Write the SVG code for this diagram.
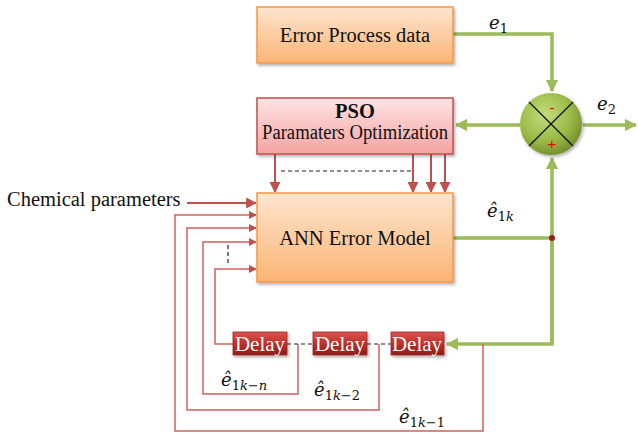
<svg xmlns="http://www.w3.org/2000/svg" width="638" height="434" viewBox="0 0 638 434">
<defs>
<linearGradient id="gOrange" x1="0" y1="0" x2="0" y2="1">
<stop offset="0" stop-color="#fde5cf"/><stop offset="1" stop-color="#fbb574"/>
</linearGradient>
<linearGradient id="gPink" x1="0" y1="0" x2="0" y2="1">
<stop offset="0" stop-color="#fde4e4"/><stop offset="1" stop-color="#f5a3a1"/>
</linearGradient>
<linearGradient id="gDelay" x1="0" y1="0" x2="0" y2="1">
<stop offset="0" stop-color="#d9534f"/><stop offset="0.5" stop-color="#c0302c"/><stop offset="1" stop-color="#8c1c1a"/>
</linearGradient>
<radialGradient id="gSum" cx="0.4" cy="0.35" r="0.7">
<stop offset="0" stop-color="#c3dc7e"/><stop offset="0.6" stop-color="#9bbb47"/><stop offset="1" stop-color="#6f8a2c"/>
</radialGradient>
<marker id="aRed" viewBox="0 0 10 10" refX="9" refY="5" markerWidth="5.5" markerHeight="5.5" orient="auto" markerUnits="strokeWidth">
<path d="M0,0 L10,5 L0,10 z" fill="#c0504d"/>
</marker>
<marker id="aGreen" viewBox="0 0 10 10" refX="9" refY="5" markerWidth="3.5" markerHeight="3.5" orient="auto" markerUnits="strokeWidth">
<path d="M0,0 L10,5 L0,10 z" fill="#9bbb59"/>
</marker>
<filter id="sh" x="-10%" y="-10%" width="130%" height="140%">
<feDropShadow dx="1.5" dy="2" stdDeviation="1.5" flood-color="#000" flood-opacity="0.3"/>
</filter>
</defs>
<style>
.t{font-family:"Liberation Serif","Times New Roman",serif;fill:#111;font-size:20.5px;}
.box{stroke-width:1.5;}
.red{stroke:#c0504d;stroke-width:2;fill:none;}
.fb{stroke:#d0605d;stroke-width:1.5;fill:none;}
.grn{stroke:#9bbb59;stroke-width:3.5;fill:none;}
.dash{stroke:#222;stroke-width:1.2;stroke-dasharray:4,3;fill:none;}
.dl{font-family:"Liberation Serif","Times New Roman",serif;fill:#fff;font-size:21px;}
.m{font-family:"DejaVu Serif","Liberation Serif",serif;font-style:italic;fill:#111;font-size:18px;}
.s{font-size:13px;}
.u{font-style:normal;}
</style>

<g id="connectors">
<polyline class="grn" points="453,34 552,34 552,91" marker-end="url(#aGreen)"/>
<line class="grn" x1="520" y1="125" x2="456" y2="125" marker-end="url(#aGreen)"/>
<line class="grn" x1="583" y1="125" x2="636" y2="125" marker-end="url(#aGreen)"/>
<polyline class="grn" points="453,238 552,238"/>
<line class="grn" x1="552" y1="344" x2="552" y2="158" marker-end="url(#aGreen)"/>
<polyline class="grn" points="552,238 552,344 447,344" marker-end="url(#aGreen)"/>
<circle cx="552" cy="238" r="3" fill="#a01818"/>
<line class="red" x1="275" y1="154" x2="275" y2="192" marker-end="url(#aRed)"/>
<line class="red" x1="413" y1="154" x2="413" y2="192" marker-end="url(#aRed)"/>
<line class="red" x1="431" y1="154" x2="431" y2="192" marker-end="url(#aRed)"/>
<line class="red" x1="445" y1="154" x2="445" y2="192" marker-end="url(#aRed)"/>
<line class="dash" x1="281" y1="171" x2="412" y2="171"/>
<line class="red" x1="187" y1="203" x2="256" y2="203" marker-end="url(#aRed)"/>
<polyline class="fb" points="483,344 483,431 175,431 175,215 256,215" marker-end="url(#aRed)"/>
<polyline class="fb" points="379,344 379,410 187,410 187,228 256,228" marker-end="url(#aRed)"/>
<polyline class="fb" points="298,344 298,394 203,394 203,242 256,242" marker-end="url(#aRed)"/>
<polyline class="fb" points="233,344 215,344 215,269 256,269" marker-end="url(#aRed)"/>
<line class="dash" x1="228" y1="245" x2="228" y2="266" stroke-dasharray="5,3,1.5,3"/>
<line class="dash" x1="287" y1="344" x2="313" y2="344" stroke-dasharray="3,2"/>
<line class="dash" x1="367" y1="344" x2="391" y2="344" stroke-dasharray="3,2"/>
</g>

<g id="error-process">
<rect class="box" x="257" y="7" width="196" height="56" fill="url(#gOrange)" stroke="#f79646" filter="url(#sh)"/>
<text class="t" x="355" y="42" text-anchor="middle">Error Process data</text>
</g>

<g id="pso">
<rect class="box" x="257" y="98" width="196" height="56" fill="url(#gPink)" stroke="#c0504d" filter="url(#sh)"/>
<text class="t" x="355" y="118" font-weight="bold" text-anchor="middle" font-size="19">PSO</text>
<text class="t" x="262" y="139" font-size="19" textLength="186" lengthAdjust="spacingAndGlyphs">Paramaters Optimization</text>
</g>

<g id="ann">
<rect class="box" x="257" y="193" width="196" height="89" fill="url(#gOrange)" stroke="#f79646" filter="url(#sh)"/>
<text class="t" x="355" y="245" text-anchor="middle">ANN Error Model</text>
</g>

<g id="sum">
<circle cx="551" cy="124" r="31" fill="url(#gSum)" filter="url(#sh)"/>
<line x1="529" y1="102" x2="573" y2="146" stroke="#111" stroke-width="1.3"/>
<line x1="573" y1="102" x2="529" y2="146" stroke="#111" stroke-width="1.3"/>
<text x="552" y="113" font-family="Liberation Sans,sans-serif" font-size="15" fill="#e00" text-anchor="middle">-</text>
<text x="552" y="149" font-family="Liberation Sans,sans-serif" font-size="15" fill="#e00" text-anchor="middle">+</text>
</g>

<g id="delay1">
<rect x="233" y="332" width="54" height="23" fill="url(#gDelay)" stroke="#a02622" stroke-width="0.8" filter="url(#sh)"/>
<text class="dl" x="260" y="351" text-anchor="middle">Delay</text>
</g>
<g id="delay2">
<rect x="313" y="332" width="54" height="23" fill="url(#gDelay)" stroke="#a02622" stroke-width="0.8" filter="url(#sh)"/>
<text class="dl" x="340" y="351" text-anchor="middle">Delay</text>
</g>
<g id="delay3">
<rect x="391" y="332" width="53" height="23" fill="url(#gDelay)" stroke="#a02622" stroke-width="0.8" filter="url(#sh)"/>
<text class="dl" x="417" y="351" text-anchor="middle">Delay</text>
</g>

<g id="labels">
<text class="t" x="7" y="206">Chemical parameters</text>
<text class="m" x="489" y="29">e<tspan class="s u" dy="4">1</tspan></text>
<text class="m" x="597" y="110">e<tspan class="s u" dy="4">2</tspan></text>
<text class="m" x="487" y="217">ê<tspan class="s" dy="4"><tspan class="u">1</tspan>k</tspan></text>
<text class="m" x="221" y="386">ê<tspan class="s" dy="4"><tspan class="u">1</tspan>k<tspan class="u">−</tspan>n</tspan></text>
<text class="m" x="314" y="396">ê<tspan class="s" dy="4"><tspan class="u">1</tspan>k<tspan class="u">−2</tspan></tspan></text>
<text class="m" x="399" y="423">ê<tspan class="s" dy="4"><tspan class="u">1</tspan>k<tspan class="u">−1</tspan></tspan></text>
</g>
</svg>
